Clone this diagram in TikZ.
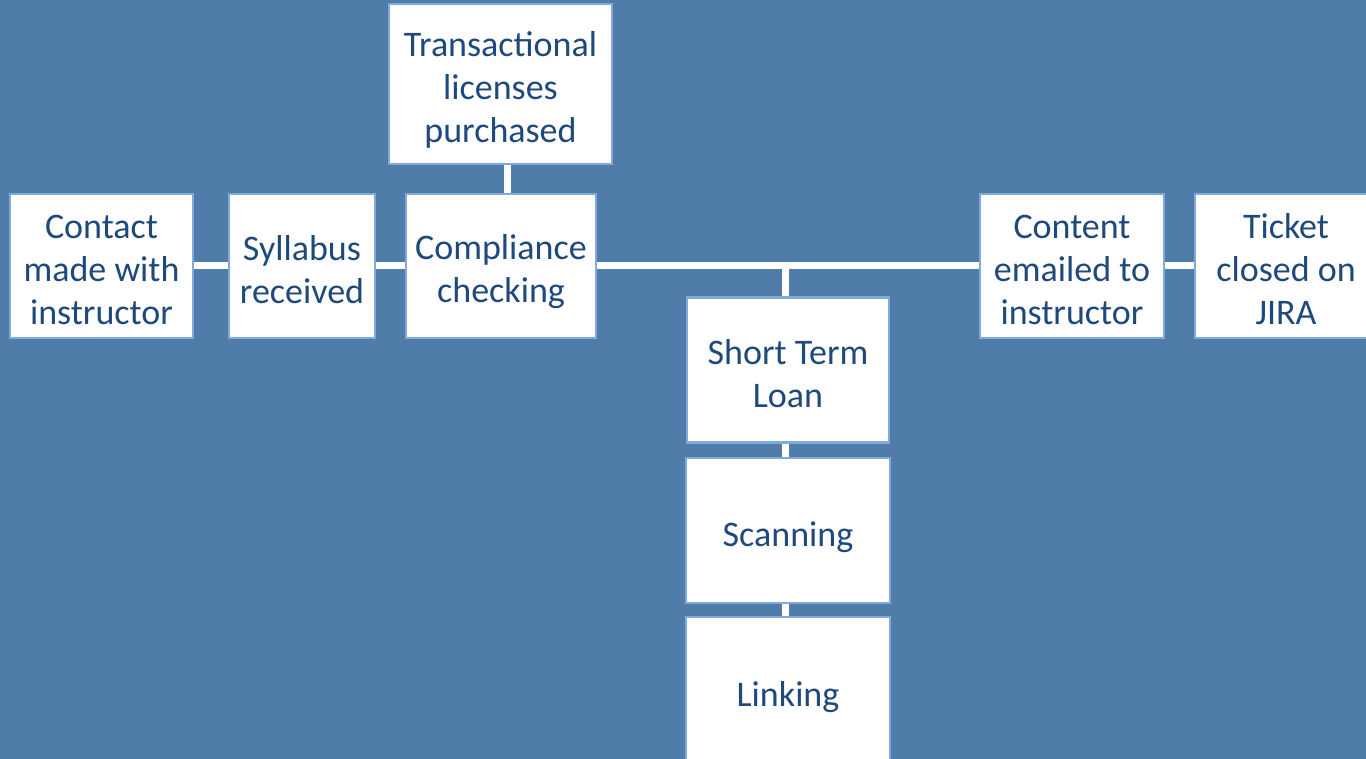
\documentclass[tikz,border=0pt]{standalone}
\usepackage{fontspec}
\setmainfont{Carlito}
\usetikzlibrary{backgrounds}
\definecolor{bgblue}{RGB}{79,124,168}
\definecolor{textblue}{RGB}{31,73,125}
\definecolor{edgeblue}{RGB}{128,170,218}
% invisible strut that lowers the text block slightly inside its box
\newcommand\toppad[1][32pt]{\rule{0pt}{#1}}
\tikzset{
  stepbox/.style={draw=edgeblue, line width=2.5pt, fill=white, text=textblue,
    align=center, inner sep=0pt,
    font=\fontsize{36}{43}\selectfont},
  link/.style={draw=white, line width=7pt}
}
\begin{document}
\begin{tikzpicture}[x=1pt,y=-1pt]
\useasboundingbox (0,0) rectangle (1366,759);
\clip (0,0) rectangle (1366,759);

% process boxes
\node[stepbox, minimum width=183pt, minimum height=144pt] (contact) at (101.5,266) {\toppad Contact\\made with\\instructor};
\node[stepbox, minimum width=146pt, minimum height=144pt] (syllabus) at (302,266) {\toppad Syllabus\\received};
\node[stepbox, minimum width=190pt, minimum height=144pt] (compliance) at (501,266) {\toppad[36pt]Compliance\\checking};
\node[stepbox, minimum width=223pt, minimum height=160pt] (trans) at (500.5,84) {\toppad[36pt]Transactional\\licenses\\purchased};
\node[stepbox, minimum width=202pt, minimum height=145pt] (loan) at (788,370) {\toppad Short Term\\Loan};
\node[stepbox, minimum width=204pt, minimum height=145pt] (scan) at (788,530.5) {\toppad[39pt]Scanning};
\node[stepbox, minimum width=204pt, minimum height=152pt] (linking) at (788,693) {\toppad[33pt]Linking};
\node[stepbox, minimum width=184pt, minimum height=144pt] (content) at (1072,266) {\toppad Content\\emailed to\\instructor};
\node[stepbox, minimum width=182pt, minimum height=144pt] (ticket) at (1286,266) {\toppad Ticket\\closed on\\JIRA};

\coordinate (tee) at (785,266);

\begin{scope}[on background layer]
  \fill[bgblue] (-10,-10) rectangle (1400,800);
  % connectors
  \draw[link] (contact.east) -- (syllabus.west);
  \draw[link] (syllabus.east) -- (compliance.west);
  \draw[link] ([xshift=6.5pt]trans.south) -- ([xshift=6pt]compliance.north);
  \draw[link] (compliance.east) -- (content.west);
  \draw[link] (content.east) -- (ticket.west);
  \draw[link] (tee) -- (tee |- loan.north);
  \draw[link] (tee |- loan.south) -- (tee |- scan.north);
  \draw[link] (tee |- scan.south) -- (tee |- linking.north);
\end{scope}
\end{tikzpicture}
\end{document}
